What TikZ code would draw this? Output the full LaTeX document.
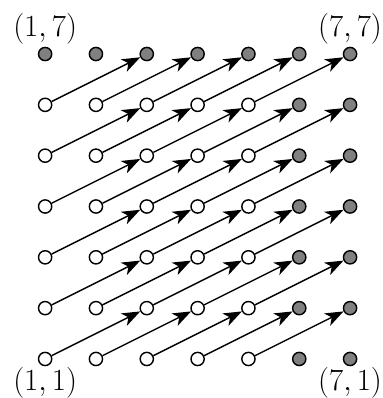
\documentclass[tikz,border=0pt]{standalone}
\usetikzlibrary{arrows.meta}
\begin{document}
\begin{tikzpicture}[
  dot/.style={circle,draw=black,line width=0.8pt,inner sep=0pt,minimum size=0.26cm},
  srcdot/.style={dot,fill=white},
  enddot/.style={dot,fill=gray},
  arr/.style={line width=0.8pt,-{Stealth[length=0.36cm,width=0.27cm,inset=0.1cm]}},
  lbl/.style={inner sep=0pt,font=\fontsize{17}{20}\selectfont}
]
\useasboundingbox (0.112,0.232) rectangle (7.647,8.063);
\foreach \i in {1,...,7}{
  \foreach \j in {1,...,7}{
    \pgfmathtruncatemacro{\src}{(\i<=5 && \j<=6) ? 1 : 0}
    \ifnum\src=1
      \node[srcdot] (d-\i-\j) at (\i,\j) {};
    \else
      \node[enddot] (d-\i-\j) at (\i,\j) {};
    \fi
  }
}
\foreach \i in {1,...,5}{
  \foreach \j in {1,...,6}{
    \pgfmathtruncatemacro{\ti}{\i+2}
    \pgfmathtruncatemacro{\tj}{\j+1}
    \draw[arr] (d-\i-\j) -- (d-\ti-\tj);
  }
}
\node[lbl] (l17) at (1,7.5) {$(1,7)$};
\node[lbl] (l77) at (7,7.5) {$(7,7)$};
\node[lbl] (l11) at (1,0.54) {$(1,1)$};
\node[lbl] (l71) at (7,0.54) {$(7,1)$};
\end{tikzpicture}
\end{document}
